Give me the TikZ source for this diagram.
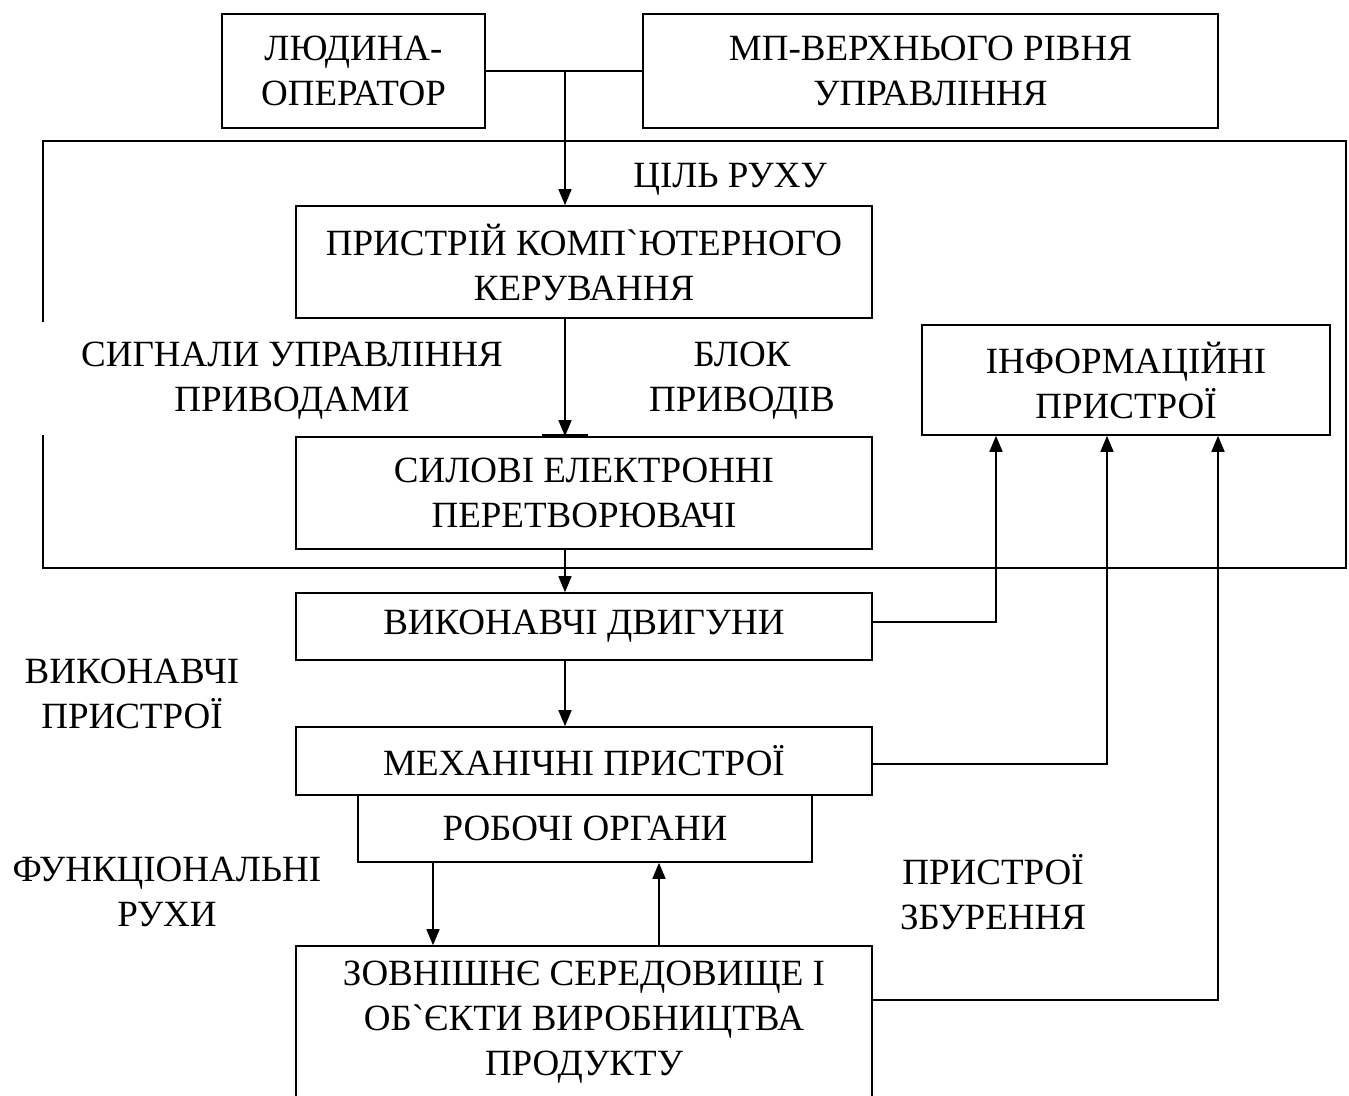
\documentclass[tikz,border=0pt]{standalone}
\usepackage{fontspec}
\setmainfont{Liberation Serif}[Ligatures=TeXOff]
\usetikzlibrary{arrows.meta}
\begin{document}
\begin{tikzpicture}[x=1pt,y=-1pt,
  box/.style={draw, line width=1.6pt, inner sep=0pt, align=center,
    font=\fontsize{37}{45}\selectfont},
  lbl/.style={inner sep=0pt, align=center, font=\fontsize{37}{45}\selectfont},
  ln/.style={line width=1.6pt},
  arr/.style={line width=1.6pt, -{Triangle[length=16pt,width=13pt]}}]
\useasboundingbox (0,0) rectangle (1349,1095);
\fill[white] (0,0) rectangle (1349,1095);
% boxes
\node[box, minimum width=263, minimum height=114] (lud) at (353.5,71) {ЛЮДИНА-\\ОПЕРАТОР};
\node[box, minimum width=575, minimum height=114] (mp) at (930.5,71) {МП-ВЕРХНЬОГО РІВНЯ\\УПРАВЛІННЯ};
\node[box, minimum width=576, minimum height=112] (pk) at (584,262) {ПРИСТРІЙ КОМП`ЮТЕРНОГО\\КЕРУВАННЯ};
\node[box, minimum width=576, minimum height=112] (sil) at (584,493) {СИЛОВІ ЕЛЕКТРОННІ\\ПЕРЕТВОРЮВАЧІ};
\node[box, minimum width=408, minimum height=110] (inf) at (1126,380) {ІНФОРМАЦІЙНІ\\ПРИСТРОЇ};
\node[box, minimum width=576, minimum height=67] (dv) at (584,626.5) {ВИКОНАВЧІ ДВИГУНИ};
\node[box, minimum width=576, minimum height=68] (mech) at (584,761) {МЕХАНІЧНІ ПРИСТРОЇ};
\node[box, minimum width=454, minimum height=67] (rob) at (585,828.5) {РОБОЧІ ОРГАНИ};
\node[box, minimum width=576, minimum height=152] (zov) at (584,1022) {ЗОВНІШНЄ СЕРЕДОВИЩЕ І\\ОБ`ЄКТИ ВИРОБНИЦТВА\\ПРОДУКТУ};
% enclosing frame (left side interrupted)
\coordinate (fa) at (43,322);
\coordinate (fb) at (43,435);
\draw[ln] (fa) -- (43,141) -- (1346,141) -- (1346,568) -- (43,568) -- (fb);
% labels
\node[lbl] (cil) at (730,179) {ЦІЛЬ РУХУ};
\node[lbl] (sig) at (292,381) {СИГНАЛИ УПРАВЛІННЯ\\ПРИВОДАМИ};
\node[lbl] (blk) at (742,381) {БЛОК\\ПРИВОДІВ};
\node[lbl] (vyk) at (132,694) {ВИКОНАВЧІ\\ПРИСТРОЇ};
\node[lbl] (fun) at (167,892) {ФУНКЦІОНАЛЬНІ\\РУХИ};
\node[lbl] (zbu) at (993,892) {ПРИСТРОЇ\\ЗБУРЕННЯ};
% connectors
\coordinate (j) at (565,71);
\draw[ln] (lud.east) -- (mp.west);
\draw[arr] (j) -- (j |- pk.north);
\coordinate (t) at (565,435);
\draw[arr] (t |- pk.south) -- (t |- sil.north);
\draw[ln] ([xshift=-23pt]t) -- ([xshift=23pt]t);
\draw[arr] (t |- sil.south) -- (t |- dv.north);
\draw[arr] (t |- dv.south) -- (t |- mech.north);
\coordinate (d1) at (433,0);
\coordinate (d2) at (659,0);
\draw[arr] (d1 |- rob.south) -- (d1 |- zov.north);
\draw[arr] (d2 |- zov.north) -- (d2 |- rob.south);
\coordinate (c1) at (996,622);
\coordinate (c2) at (1107,764);
\coordinate (c3) at (1218,1000);
\draw[arr] (dv.east |- c1) -- (c1) -- (c1 |- inf.south);
\draw[arr] (mech.east |- c2) -- (c2) -- (c2 |- inf.south);
\draw[arr] (zov.east |- c3) -- (c3) -- (c3 |- inf.south);
\end{tikzpicture}
\end{document}
